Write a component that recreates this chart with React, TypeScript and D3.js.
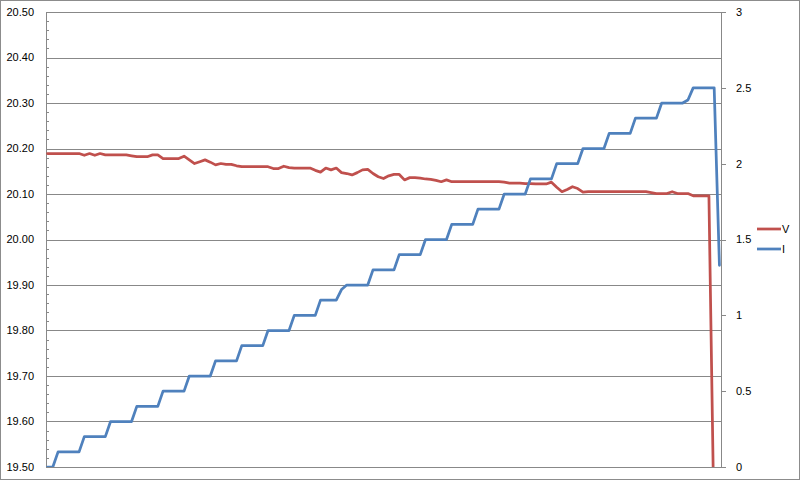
import React from "react";
import * as d3 from "d3";

const vValues: number[] = [
  20.189, 20.189, 20.189, 20.189, 20.189, 20.189, 20.189, 20.185, 20.189, 20.185,
  20.189, 20.186, 20.186, 20.186, 20.186, 20.186, 20.184, 20.182, 20.182, 20.182,
  20.186, 20.186, 20.178, 20.178, 20.178, 20.178, 20.183, 20.175, 20.167, 20.171,
  20.175, 20.170, 20.164, 20.167, 20.165, 20.165, 20.162, 20.160, 20.160, 20.160,
  20.160, 20.160, 20.160, 20.156, 20.156, 20.161, 20.158, 20.157, 20.157, 20.157,
  20.157, 20.152, 20.148, 20.157, 20.153, 20.157, 20.147, 20.145, 20.142, 20.147,
  20.153, 20.154, 20.145, 20.138, 20.134, 20.140, 20.143, 20.143, 20.131, 20.136,
  20.136, 20.135, 20.133, 20.132, 20.130, 20.127, 20.131, 20.127, 20.127, 20.127,
  20.127, 20.127, 20.127, 20.127, 20.127, 20.127, 20.127, 20.126, 20.124, 20.124,
  20.124, 20.123, 20.123, 20.122, 20.122, 20.122, 20.126, 20.115, 20.105, 20.110,
  20.116, 20.112, 20.104, 20.105, 20.105, 20.105, 20.105, 20.105, 20.105, 20.105,
  20.105, 20.105, 20.105, 20.105, 20.105, 20.103, 20.101, 20.101, 20.101, 20.105,
  20.101, 20.101, 20.101, 20.096, 20.096, 20.096, 20.096, 19.35, 18.8,
];

const iValues: number[] = [
  0, 0,
  0.1, 0.1, 0.1, 0.1, 0.1,
  0.2, 0.2, 0.2, 0.2, 0.2,
  0.3, 0.3, 0.3, 0.3, 0.3,
  0.4, 0.4, 0.4, 0.4, 0.4,
  0.5, 0.5, 0.5, 0.5, 0.5,
  0.6, 0.6, 0.6, 0.6, 0.6,
  0.7, 0.7, 0.7, 0.7, 0.7,
  0.8, 0.8, 0.8, 0.8, 0.8,
  0.9, 0.9, 0.9, 0.9, 0.9,
  1.0, 1.0, 1.0, 1.0, 1.0,
  1.1, 1.1, 1.1, 1.1, 1.17,
  1.2, 1.2, 1.2, 1.2, 1.2,
  1.3, 1.3, 1.3, 1.3, 1.3,
  1.4, 1.4, 1.4, 1.4, 1.4,
  1.5, 1.5, 1.5, 1.5, 1.5,
  1.6, 1.6, 1.6, 1.6, 1.6,
  1.7, 1.7, 1.7, 1.7, 1.7,
  1.8, 1.8, 1.8, 1.8, 1.8,
  1.9, 1.9, 1.9, 1.9, 1.9,
  2.0, 2.0, 2.0, 2.0, 2.0,
  2.1, 2.1, 2.1, 2.1, 2.1,
  2.2, 2.2, 2.2, 2.2, 2.2,
  2.3, 2.3, 2.3, 2.3, 2.3,
  2.4, 2.4, 2.4, 2.4, 2.4,
  2.42,
  2.5, 2.5, 2.5, 2.5, 2.5,
  1.33,
];

const leftTicks: number[] = [19.5, 19.6, 19.7, 19.8, 19.9, 20.0, 20.1, 20.2, 20.3, 20.4, 20.5];
const rightTicks: number[] = [0, 0.5, 1, 1.5, 2, 2.5, 3];
const seriesNames: string[] = ["V", "I"];

const W = 800;
const H = 480;
const L = 46;
const R = 721;
const T = 12;
const B = 467;
const RED = "#C0504D";
const BLUE = "#4F81BD";
const FONT = "'Liberation Sans', Arial, sans-serif";

export default function App() {
  const n = vValues.length;
  const x = d3.scaleLinear().domain([-0.3, n - 1 + 0.3]).range([L, R]);
  const yL = d3.scaleLinear().domain([19.5, 20.5]).range([B, T]);
  const yR = d3.scaleLinear().domain([0, 3]).range([B, T]);

  const lineV = d3.line<number>().x((_, i) => x(i)).y((d) => yL(d));
  const lineI = d3.line<number>().x((_, i) => x(i)).y((d) => yR(d));

  const minor = d3.range(0, 51).map((k) => 19.5 + k * 0.02);

  return (
    <svg
      width={W}
      height={H}
      style={{ position: "absolute", left: 0, top: 0, background: "#fff" }}
      fontFamily={FONT}
    >
      <defs>
        <clipPath id="plotclip">
          <rect x={L} y={T} width={R - L} height={B - T} />
        </clipPath>
      </defs>
      <rect x={0.5} y={0.5} width={W - 1} height={H - 1} fill="#fff" stroke="#8c8c8c" />
      {leftTicks.map((t) => (
        <line key={"g" + t} x1={L} x2={R} y1={Math.round(yL(t)) + 0.5} y2={Math.round(yL(t)) + 0.5} stroke="#888" strokeWidth={1} />
      ))}
      {minor.map((t, k) => (
        <line key={"m" + k} x1={L} x2={L + 3} y1={Math.round(yL(t)) + 0.5} y2={Math.round(yL(t)) + 0.5} stroke="#888" strokeWidth={1} />
      ))}
      <line x1={L + 0.5} x2={L + 0.5} y1={T} y2={B} stroke="#888" />
      <line x1={R + 0.5} x2={R + 0.5} y1={T} y2={B} stroke="#888" />
      {rightTicks.map((t) => (
        <line key={"rt" + t} x1={R} x2={R + 5} y1={Math.round(yR(t)) + 0.5} y2={Math.round(yR(t)) + 0.5} stroke="#888" />
      ))}
      {leftTicks.map((t) => (
        <text key={"lt" + t} x={34} y={yL(t)} dy="0.35em" textAnchor="end" fontSize={11} fill="#000">
          {t.toFixed(2)}
        </text>
      ))}
      {rightTicks.map((t) => (
        <text key={"rl" + t} x={736} y={yR(t)} dy="0.35em" textAnchor="start" fontSize={11} fill="#000">
          {String(t)}
        </text>
      ))}
      <g clipPath="url(#plotclip)">
        <path d={lineV(vValues) || ""} fill="none" stroke={RED} strokeWidth={2.75} strokeLinejoin="round" strokeLinecap="round" />
        <path d={lineI(iValues) || ""} fill="none" stroke={BLUE} strokeWidth={2.75} strokeLinejoin="round" strokeLinecap="round" />
      </g>
      {seriesNames.map((s, k) => (
        <g key={s}>
          <line x1={757} x2={781} y1={229 + k * 20} y2={229 + k * 20} stroke={k === 0 ? RED : BLUE} strokeWidth={2.75} />
          <text x={782} y={229 + k * 20} dy="0.35em" fontSize={11} fill="#000">
            {s}
          </text>
        </g>
      ))}
    </svg>
  );
}
